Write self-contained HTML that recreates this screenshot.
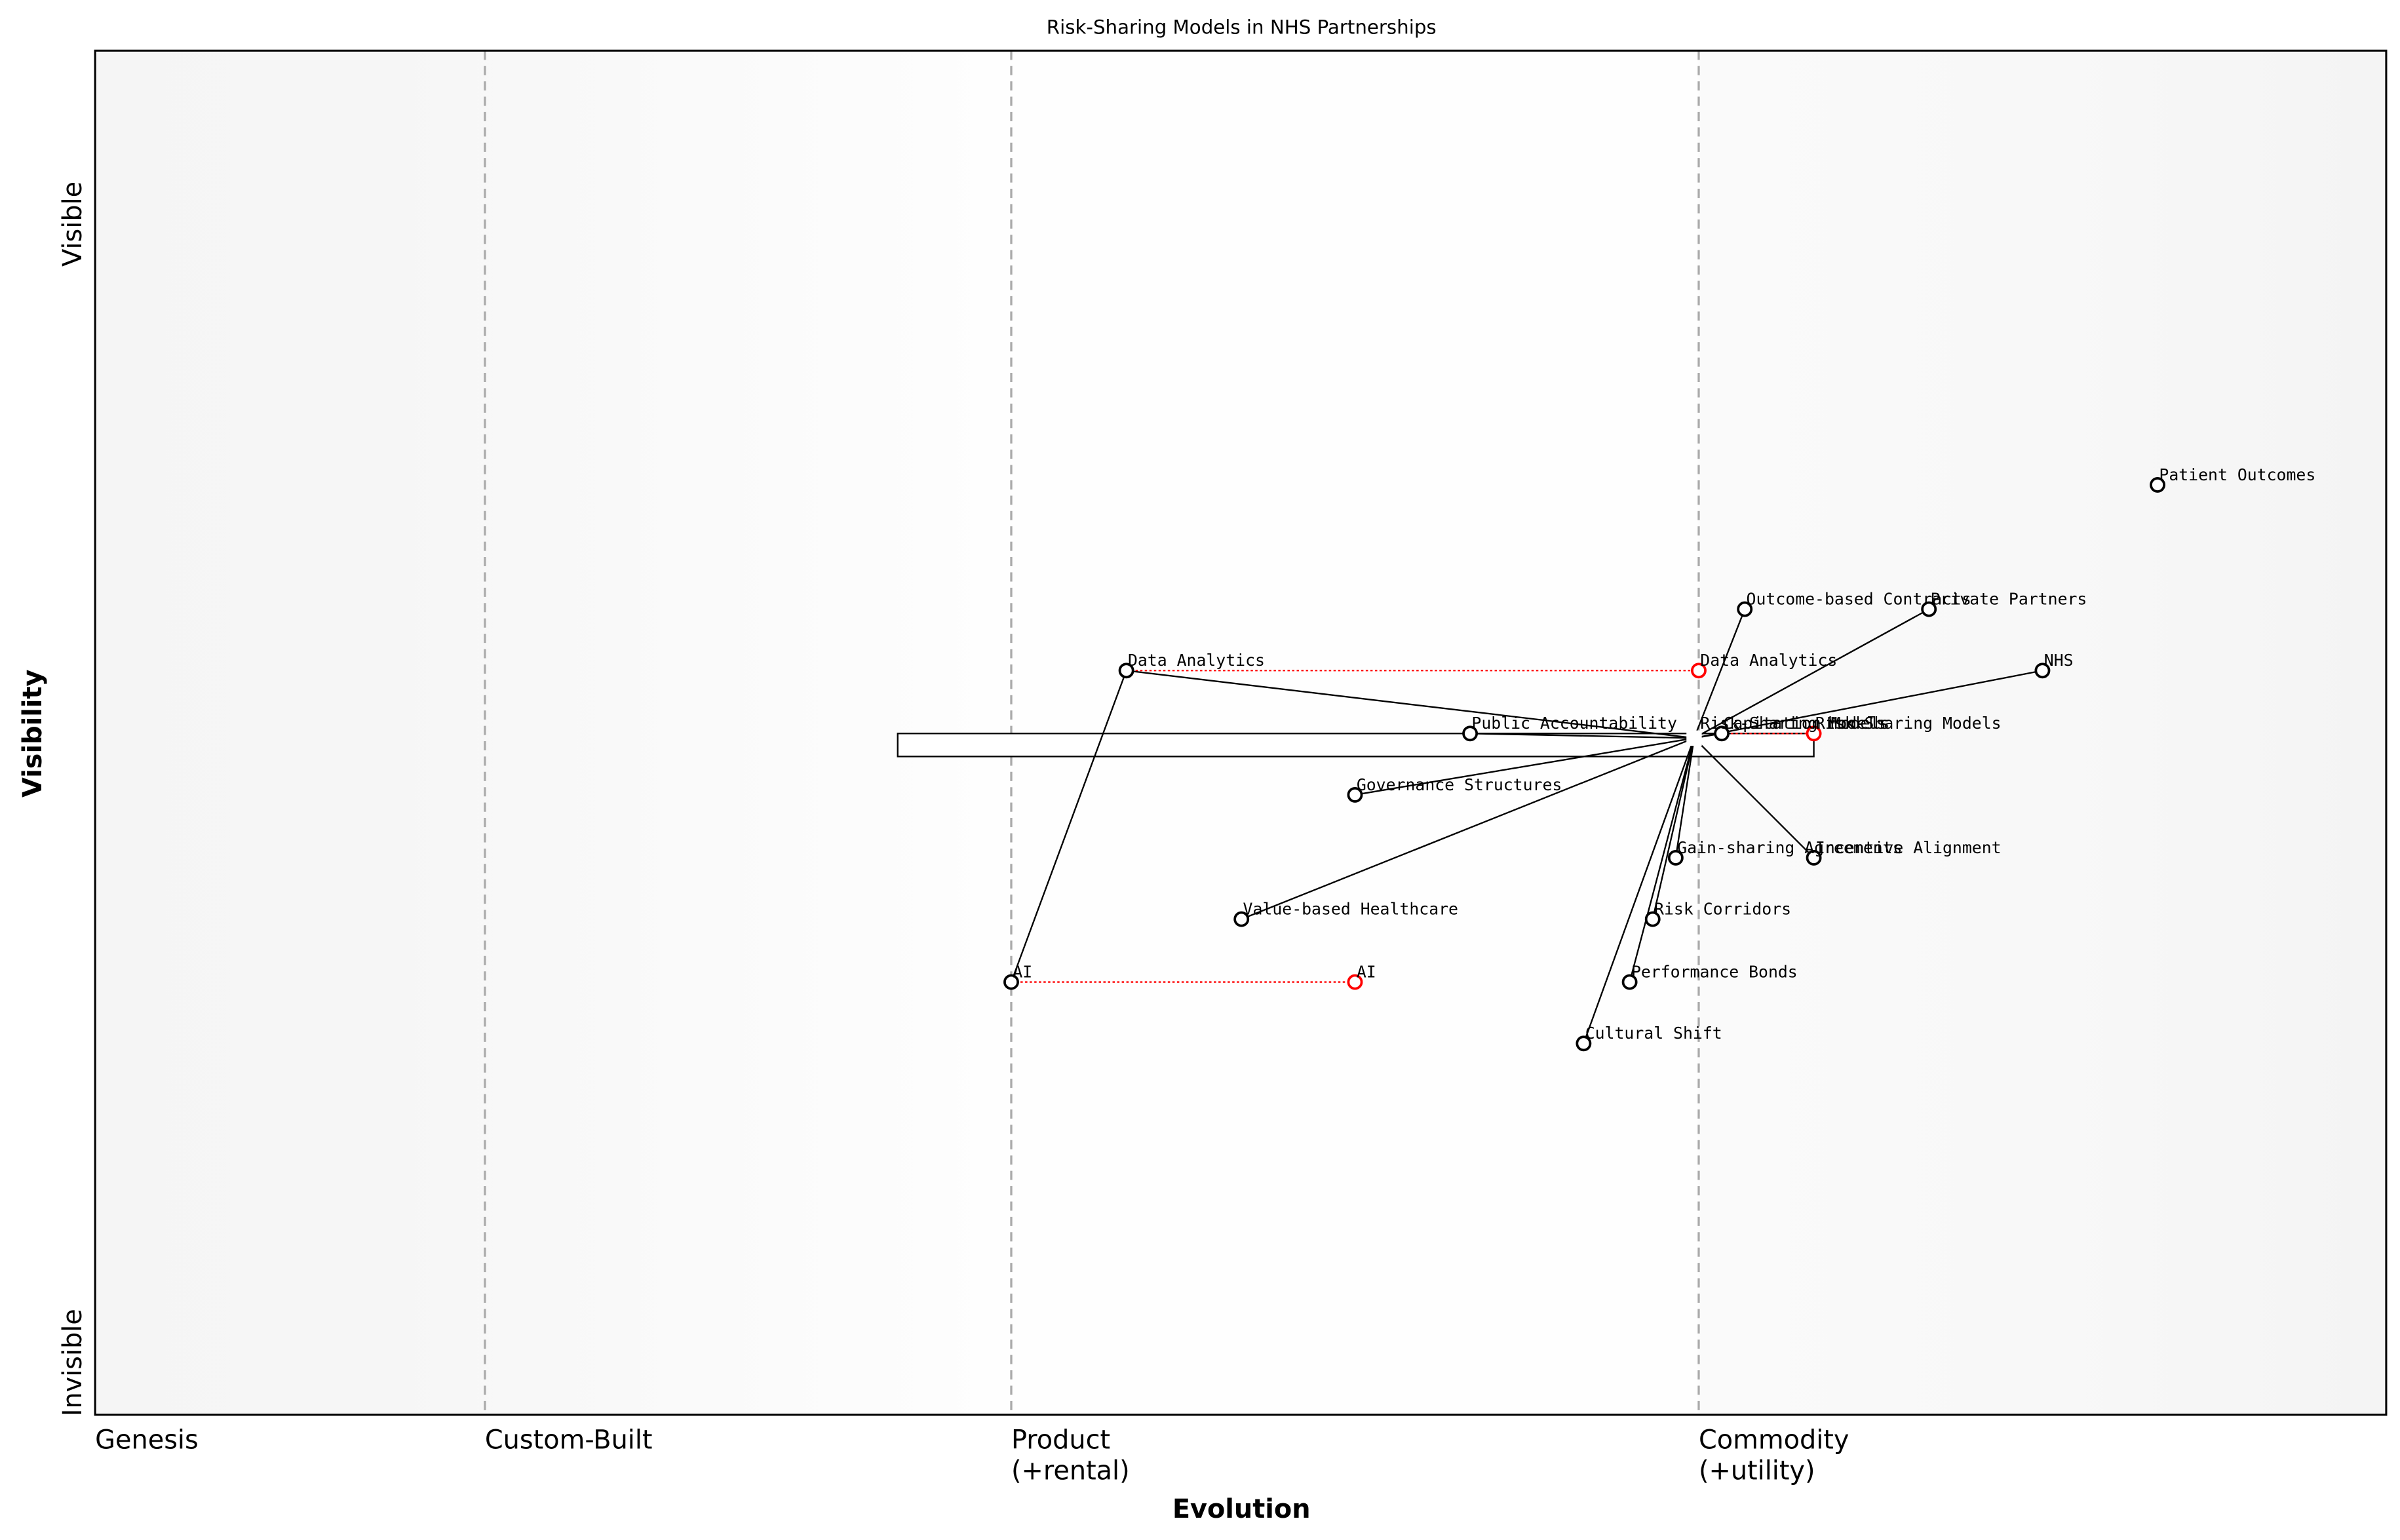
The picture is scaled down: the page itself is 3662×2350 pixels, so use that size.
<!DOCTYPE html>
<html><head><meta charset="utf-8"><style>html,body{margin:0;padding:0;background:#fff}svg{display:block}</style></head>
<body>
<svg width="3662" height="2350" viewBox="0 0 1564 1003.6" preserveAspectRatio="none" xmlns="http://www.w3.org/2000/svg">
<defs>
<linearGradient id="bg" x1="0" x2="1" y1="0" y2="0">
<stop offset="0" stop-color="#f5f5f5"/>
<stop offset="0.12" stop-color="#f6f6f6"/>
<stop offset="0.3" stop-color="#fbfbfb"/>
<stop offset="0.4" stop-color="#fefefe"/>
<stop offset="0.699" stop-color="#fefefe"/>
<stop offset="0.701" stop-color="#fafafa"/>
<stop offset="0.85" stop-color="#f8f8f8"/>
<stop offset="1" stop-color="#f4f4f4"/>
</linearGradient>
</defs>
<text x="809" y="22" font-family="DejaVu Sans, sans-serif" font-size="12.5" text-anchor="middle">Risk-Sharing Models in NHS Partnerships</text>
<rect x="62" y="33" width="1493" height="889" fill="url(#bg)"/>
<g stroke="#aaa" stroke-width="1.4" stroke-dasharray="6,4">
<line x1="316" y1="33" x2="316" y2="922"/><line x1="659" y1="33" x2="659" y2="922"/><line x1="1107" y1="33" x2="1107" y2="922"/>
</g>
<rect x="585" y="478" width="597" height="15" fill="#fff" stroke="#000" stroke-width="1"/>
<g stroke="red" stroke-width="1" stroke-dasharray="1.5,1.5">
<line x1="734" y1="437" x2="1107" y2="437"/><line x1="659" y1="640" x2="883" y2="640"/><line x1="1122" y1="478" x2="1182" y2="478"/>
</g>
<g stroke="#000" stroke-width="1">
<line x1="1104" y1="481" x2="1137" y2="397"/><line x1="1104" y1="481" x2="1257" y2="397"/><line x1="1104" y1="481" x2="1331" y2="437"/>
<line x1="1104" y1="481" x2="734" y2="437"/><line x1="1104" y1="481" x2="958" y2="478"/><line x1="1104" y1="481" x2="883" y2="518"/>
<line x1="1104" y1="481" x2="809" y2="599"/><line x1="1104" y1="481" x2="1092" y2="559"/><line x1="1104" y1="481" x2="1182" y2="559"/>
<line x1="1104" y1="481" x2="1077" y2="599"/><line x1="1104" y1="481" x2="1062" y2="640"/><line x1="1104" y1="481" x2="1032" y2="680"/>
<line x1="1104" y1="481" x2="1122" y2="478"/><line x1="734" y1="437" x2="659" y2="640"/>
</g>
<rect x="1099" y="476" width="10" height="10" fill="#fff"/>
<g fill="#fff" stroke="#000" stroke-width="1.6">
<circle cx="1406" cy="316" r="4.3"/><circle cx="1137" cy="397" r="4.3"/><circle cx="1257" cy="397" r="4.3"/>
<circle cx="734" cy="437" r="4.3"/><circle cx="1331" cy="437" r="4.3"/><circle cx="958" cy="478" r="4.3"/>
<circle cx="1122" cy="478" r="4.3"/><circle cx="883" cy="518" r="4.3"/><circle cx="1092" cy="559" r="4.3"/>
<circle cx="1182" cy="559" r="4.3"/><circle cx="809" cy="599" r="4.3"/><circle cx="1077" cy="599" r="4.3"/>
<circle cx="659" cy="640" r="4.3"/><circle cx="1062" cy="640" r="4.3"/><circle cx="1032" cy="680" r="4.3"/>
</g>
<g fill="#fff" stroke="red" stroke-width="1.6">
<circle cx="1107" cy="437" r="4.3"/><circle cx="883" cy="640" r="4.3"/><circle cx="1182" cy="478" r="4.3"/>
</g>
<g font-family="DejaVu Sans Mono, Liberation Mono, monospace" font-size="10.6" fill="#000">
<text x="1407" y="313">Patient Outcomes</text>
<text x="1138" y="394">Outcome-based Contracts</text>
<text x="1258" y="394">Private Partners</text>
<text x="735" y="434">Data Analytics</text>
<text x="1108" y="434">Data Analytics</text>
<text x="1332" y="434">NHS</text>
<text x="959" y="475">Public Accountability</text>
<text x="1108" y="475">Risk-Sharing Models</text>
<text x="1123" y="475">Capitation Models</text>
<text x="1183" y="475">Risk-Sharing Models</text>
<text x="884" y="515">Governance Structures</text>
<text x="1093" y="556">Gain-sharing Agreements</text>
<text x="1183" y="556">Incentive Alignment</text>
<text x="810" y="596">Value-based Healthcare</text>
<text x="1078" y="596">Risk Corridors</text>
<text x="660" y="637">AI</text>
<text x="884" y="637">AI</text>
<text x="1063" y="637">Performance Bonds</text>
<text x="1033" y="677">Cultural Shift</text>
</g>
<rect x="62" y="33" width="1493" height="889" fill="none" stroke="#000" stroke-width="1.3"/>
<g font-family="DejaVu Sans, sans-serif" font-size="17" fill="#000">
<text transform="translate(53,146) rotate(-90)" text-anchor="middle">Visible</text>
<text transform="translate(53,888) rotate(-90)" text-anchor="middle">Invisible</text>
<text x="62" y="944">Genesis</text>
<text x="316" y="944">Custom-Built</text>
<text x="659" y="944">Product</text><text x="659" y="964">(+rental)</text>
<text x="1107" y="944">Commodity</text><text x="1107" y="964">(+utility)</text>
<text x="809" y="989" text-anchor="middle" font-weight="bold">Evolution</text>
<text transform="translate(27,478) rotate(-90)" text-anchor="middle" font-weight="bold">Visibility</text>
</g>
</svg>
</body></html>
